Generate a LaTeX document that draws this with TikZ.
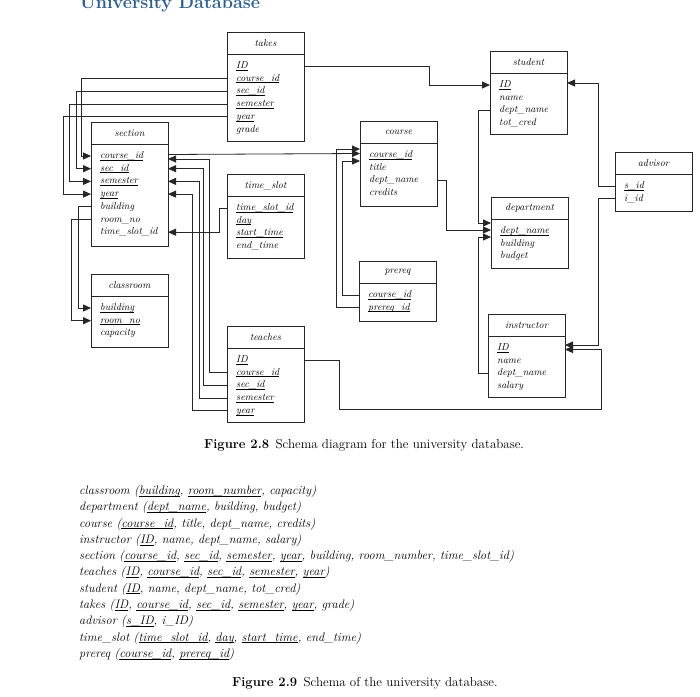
\documentclass[tikz,border=0pt]{standalone}
\usepackage{tikz}
\usetikzlibrary{arrows.meta,positioning,calc}
\definecolor{titleblue}{HTML}{2E5E8C}
\newcommand{\key}[1]{\underline{\smash{#1}}\vphantom{#1}}

\begin{document}
\begin{tikzpicture}[x=1pt, y=-1pt,
    thead/.style={draw=black!85, line width=0.8pt, anchor=north west, minimum width=77pt,
      minimum height=22.5pt, inner sep=0pt, outer sep=0pt, font=\itshape\fontsize{10}{12}\selectfont},
    tbody/.style={draw=black!85, line width=0.8pt, minimum width=77pt, inner sep=0pt, outer sep=0pt},
    attr/.style={anchor=west, inner sep=0pt, text height=7pt, text depth=2pt,
      font=\itshape\fontsize{10}{12}\selectfont},
    fk/.style={draw=black!85, line width=0.8pt, -{Triangle[length=8pt,width=7pt]}}]

  \path[use as bounding box, fill=white] (0,0) rectangle (700,696);

  \node[anchor=base west, inner sep=0pt, text=titleblue,
        font=\bfseries\fontsize{18}{22}\selectfont] (title) at (80,9) {University Database};

  % tables
  \node[thead] (takes) at (227,32) {takes};
  \node[tbody, minimum height=87pt, below=0pt of takes] (takes-b) {};
  \node[thead] (section) at (91,122) {section};
  \node[tbody, minimum height=102pt, below=0pt of section] (section-b) {};
  \node[thead] (time_slot) at (227,174) {time\_slot};
  \node[tbody, minimum height=62pt, below=0pt of time_slot] (time_slot-b) {};
  \node[thead] (classroom) at (91,274) {classroom};
  \node[tbody, minimum height=51pt, below=0pt of classroom] (classroom-b) {};
  \node[thead] (teaches) at (227,326) {teaches};
  \node[tbody, minimum height=74pt, below=0pt of teaches] (teaches-b) {};
  \node[thead] (student) at (490,51) {student};
  \node[tbody, minimum height=61pt, below=0pt of student] (student-b) {};
  \node[thead] (course) at (360,121) {course};
  \node[tbody, minimum height=63pt, below=0pt of course] (course-b) {};
  \node[thead] (advisor) at (615,152) {advisor};
  \node[tbody, minimum height=37pt, below=0pt of advisor] (advisor-b) {};
  \node[thead] (department) at (491,197) {department};
  \node[tbody, minimum height=49pt, below=0pt of department] (department-b) {};
  \node[thead] (prereq) at (359,261) {prereq};
  \node[tbody, minimum height=38pt, below=0pt of prereq] (prereq-b) {};
  \node[thead] (instructor) at (488,314) {instructor};
  \node[tbody, minimum height=61pt, below=0pt of instructor] (instructor-b) {};

  % attributes
  \foreach \n/\t [count=\i from 0] in {id/\key{ID}, cid/\key{course\_id}, sid/\key{sec\_id},
      sem/\key{semester}, yr/\key{year}, gr/grade}
    \node[attr] (tk-\n) at ($(takes-b.north west)+(9,11.5+12.7*\i)$) {\t};
  \foreach \n/\t [count=\i from 0] in {cid/\key{course\_id}, sid/\key{sec\_id}, sem/\key{semester},
      yr/\key{year}, bld/building, room/room\_no, tsid/time\_slot\_id}
    \node[attr] (se-\n) at ($(section-b.north west)+(9,11.5+12.7*\i)$) {\t};
  \foreach \n/\t [count=\i from 0] in {id/\key{time\_slot\_id}, day/\key{day},
      st/\key{start\_time}, et/end\_time}
    \node[attr] (ts-\n) at ($(time_slot-b.north west)+(9,11.5+12.7*\i)$) {\t};
  \foreach \n/\t [count=\i from 0] in {bld/\key{building}, room/\key{room\_no}, cap/capacity}
    \node[attr] (cr-\n) at ($(classroom-b.north west)+(9,11.5+12.7*\i)$) {\t};
  \foreach \n/\t [count=\i from 0] in {id/\key{ID}, cid/\key{course\_id}, sid/\key{sec\_id},
      sem/\key{semester}, yr/\key{year}}
    \node[attr] (te-\n) at ($(teaches-b.north west)+(9,11.5+12.7*\i)$) {\t};
  \foreach \n/\t [count=\i from 0] in {id/\key{ID}, nm/name, dn/dept\_name, tc/tot\_cred}
    \node[attr] (st-\n) at ($(student-b.north west)+(9,11.5+12.7*\i)$) {\t};
  \foreach \n/\t [count=\i from 0] in {cid/\key{course\_id}, ti/title, dn/dept\_name, cr/credits}
    \node[attr] (co-\n) at ($(course-b.north west)+(9,11.5+12.7*\i)$) {\t};
  \foreach \n/\t [count=\i from 0] in {sid/\key{s\_id}, iid/i\_id}
    \node[attr] (ad-\n) at ($(advisor-b.north west)+(9,11.5+12.7*\i)$) {\t};
  \foreach \n/\t [count=\i from 0] in {dn/\key{dept\_name}, bld/building, bu/budget}
    \node[attr] (de-\n) at ($(department-b.north west)+(9,11.5+12.7*\i)$) {\t};
  \foreach \n/\t [count=\i from 0] in {cid/\key{course\_id}, pid/\key{prereq\_id}}
    \node[attr] (pr-\n) at ($(prereq-b.north west)+(9,11.5+12.7*\i)$) {\t};
  \foreach \n/\t [count=\i from 0] in {id/\key{ID}, nm/name, dn/dept\_name, sal/salary}
    \node[attr] (in-\n) at ($(instructor-b.north west)+(9,11.5+12.7*\i)$) {\t};

  % takes
  \draw[fk] (tk-id -| takes-b.east) -- ++(125,0) |- (st-id -| student-b.west);
  \draw[fk] (tk-cid -| takes-b.west) -| ($(se-cid -| section-b.west)+(-10,0)$) -- (se-cid -| section-b.west);
  \draw[fk] (tk-sid -| takes-b.west) -| ($(se-sid -| section-b.west)+(-15,0)$) -- (se-sid -| section-b.west);
  \draw[fk] (tk-sem -| takes-b.west) -| ($(se-sem -| section-b.west)+(-22,0)$) -- (se-sem -| section-b.west);
  \draw[fk] (tk-yr -| takes-b.west) -| ($(se-yr -| section-b.west)+(-28,0)$) -- (se-yr -| section-b.west);

  % section
  \draw[fk] (se-bld -| section-b.west) -| ($(cr-bld -| classroom-b.west)+(-13,0)$) -- (cr-bld -| classroom-b.west);
  \draw[fk] (se-room -| section-b.west) -| ($(cr-room -| classroom-b.west)+(-20,0)$) -- (cr-room -| classroom-b.west);
  \draw[fk] ($(se-cid -| section-b.east)+(0,-1.5)$) -- ($(co-cid -| course-b.west)+(0,-1.5)$);
  \draw[fk] (ts-id -| time_slot-b.west) -| ($(se-tsid -| section-b.east)+(51,0)$) -- (se-tsid -| section-b.east);

  % teaches
  \draw[fk] (te-cid -| teaches-b.west) -| ($(se-cid -| section-b.east)+(41,3)$) -- ($(se-cid -| section-b.east)+(0,3)$);
  \draw[fk] (te-sid -| teaches-b.west) -| ($(se-sid -| section-b.east)+(35,0)$) -- (se-sid -| section-b.east);
  \draw[fk] (te-sem -| teaches-b.west) -| ($(se-sem -| section-b.east)+(31,0)$) -- (se-sem -| section-b.east);
  \draw[fk] (te-yr -| teaches-b.west) -| ($(se-yr -| section-b.east)+(24,0)$) -- (se-yr -| section-b.east);
  \draw[fk] (te-id -| teaches-b.east) -- ++(35,0) -- ++(0,49) -| ($(in-id -| instructor-b.east)+(36,1.5)$)
    -- ($(in-id -| instructor-b.east)+(0,1.5)$);

  % prereq
  \draw[fk] (pr-cid -| prereq-b.west) -| ($(co-cid -| course-b.west)+(-18,6)$) -- ($(co-cid -| course-b.west)+(0,6)$);
  \draw[fk] (pr-pid -| prereq-b.west) -| ($(co-cid -| course-b.west)+(-24,-6)$) -- ($(co-cid -| course-b.west)+(0,-6)$);

  % dept_name
  \draw[fk] (st-dn -| student-b.west) -| ($(de-dn -| department-b.west)+(-13,-8)$) -- ($(de-dn -| department-b.west)+(0,-8)$);
  \draw[fk] (co-dn -| course-b.east) -| ($(de-dn -| department-b.west)+(-45,-1)$) -- ($(de-dn -| department-b.west)+(0,-1)$);
  \draw[fk] (in-dn -| instructor-b.west) -| ($(de-dn -| department-b.west)+(-13,6)$) -- ($(de-dn -| department-b.west)+(0,6)$);

  % advisor
  \draw[fk] (ad-sid -| advisor-b.west) -| ($(st-id -| student-b.east)+(31,-2)$) -- ($(st-id -| student-b.east)+(0,-2)$);
  \draw[fk] (ad-iid -| advisor-b.west) -| ($(in-id -| instructor-b.east)+(33,-3)$) -- ($(in-id -| instructor-b.east)+(0,-3)$);

  \node[anchor=base west, inner sep=0pt, font=\fontsize{13}{15}\selectfont] (cap8) at (204,448)
    {\textbf{Figure 2.8}\hspace{0.5em}Schema diagram for the university database.};

  \node[anchor=north west, inner sep=0pt, align=left, font=\itshape\fontsize{12.3}{16.3}\selectfont] (schema) at (79,485)
    {classroom (\key{building}, \key{room\_number}, capacity)\\
     department (\key{dept\_name}, building, budget)\\
     course (\key{course\_id}, title, dept\_name, credits)\\
     instructor (\key{ID}, name, dept\_name, salary)\\
     section (\key{course\_id}, \key{sec\_id}, \key{semester}, \key{year}, building, room\_number, time\_slot\_id)\\
     teaches (\key{ID}, \key{course\_id}, \key{sec\_id}, \key{semester}, \key{year})\\
     student (\key{ID}, name, dept\_name, tot\_cred)\\
     takes (\key{ID}, \key{course\_id}, \key{sec\_id}, \key{semester}, \key{year}, grade)\\
     advisor (\key{s\_ID}, i\_ID)\\
     time\_slot (\key{time\_slot\_id}, \key{day}, \key{start\_time}, end\_time)\\
     prereq (\key{course\_id}, \key{prereq\_id})};

  \node[anchor=base west, inner sep=0pt, font=\fontsize{13}{15}\selectfont] (cap9) at (232,686)
    {\textbf{Figure 2.9}\hspace{0.5em}Schema of the university database.};
\end{tikzpicture}
\end{document}
